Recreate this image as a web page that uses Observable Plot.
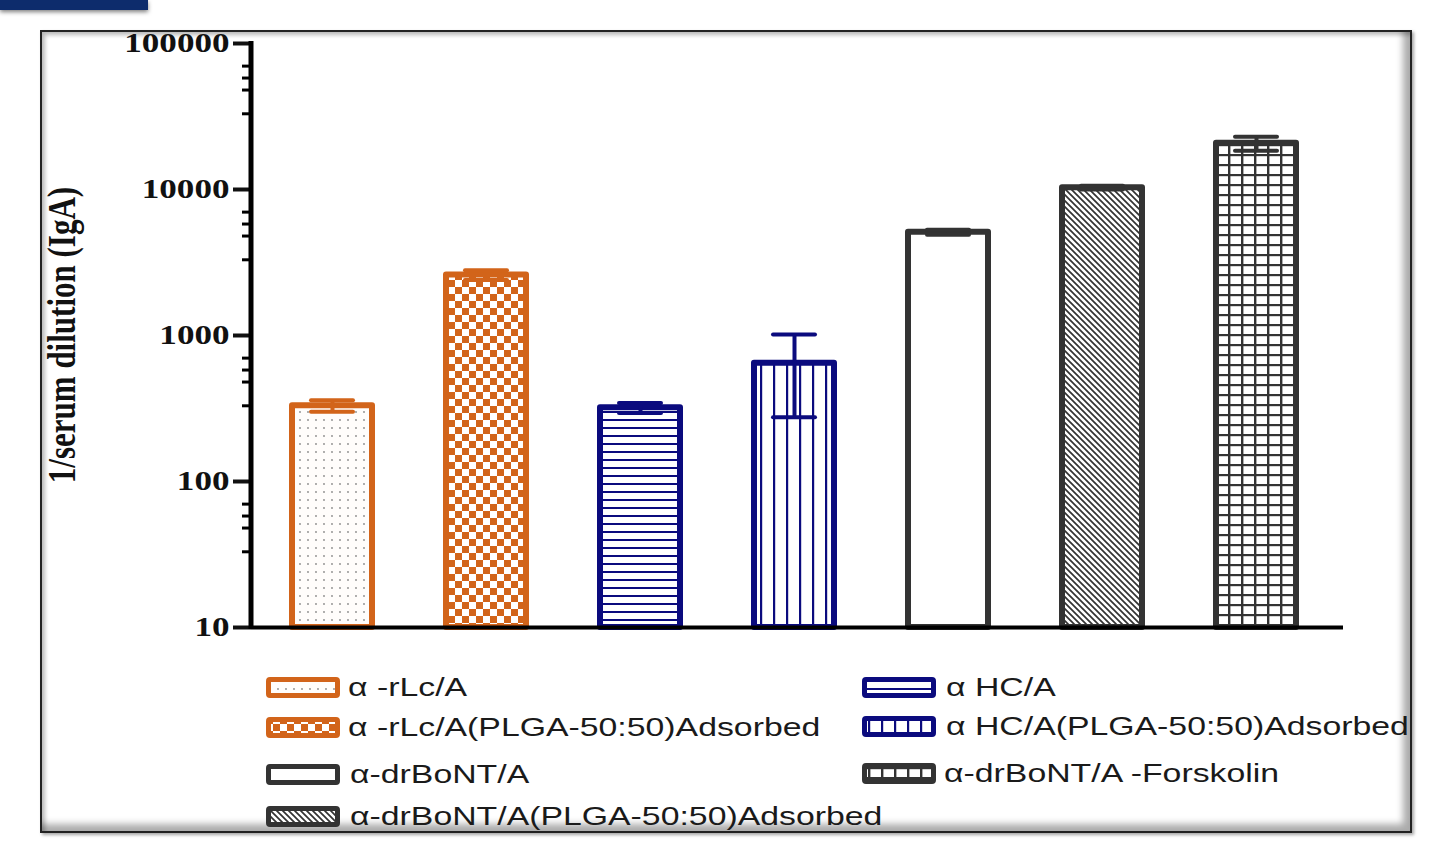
<!DOCTYPE html>
<html>
<head>
<meta charset="utf-8">
<script src="https://cdn.jsdelivr.net/npm/d3@7"></script>
<script src="https://cdn.jsdelivr.net/npm/@observablehq/plot@0.6"></script>
<style>
html, body { margin: 0; padding: 0; background: #fff; }
#stage { position: relative; width: 1447px; height: 866px; overflow: hidden; }
#strip { position: absolute; left: 0; top: 0; width: 148px; height: 10px; background: #0d2c6c; box-shadow: 0 2px 4px rgba(0,0,0,.5); }
#frame { position: absolute; left: 40px; top: 30px; width: 1368px; height: 799px; border: 2px solid #222;
  box-shadow: inset -7px -7px 7px rgba(0,0,0,.33), inset 3px 3px 4px rgba(0,0,0,.28), 2px 2px 3px rgba(0,0,0,.35); }
#chart { position: absolute; left: 0; top: 0; }
#ytitle { position: absolute; left: 62px; top: 335px; white-space: nowrap;
  font-family: "Liberation Serif", "Times New Roman", serif; font-weight: bold; font-size: 31px; color: #111;
  transform: translate(-50%, -50%) scaleX(1.3) rotate(-90deg); }
.lg-swatch { position: absolute; }
.lg-text { position: absolute; white-space: nowrap; font-family: "Liberation Sans", Arial, sans-serif; font-size: 26px; color: #1a1a1a;
  transform: translateY(-50%) scaleX(1.3); transform-origin: left center; line-height: 1; }
#defs { position: absolute; width: 0; height: 0; }
</style>
</head>
<body>
<div id="stage">
  <div id="strip"></div>
  <div id="frame"></div>
  <svg id="defs" width="0" height="0">
    <defs>
      <pattern id="p-dots" patternUnits="userSpaceOnUse" width="8" height="8">
        <rect width="8" height="8" fill="#fffdfb"/>
        <circle cx="4" cy="4" r="0.9" fill="#8a8a8a"/>
      </pattern>
      <pattern id="p-check" patternUnits="userSpaceOnUse" width="14" height="14">
        <rect width="14" height="14" fill="#fff"/>
        <rect x="0" y="0" width="7" height="7" fill="#d2641a"/>
        <rect x="7" y="7" width="7" height="7" fill="#d2641a"/>
      </pattern>
      <pattern id="p-hlines" patternUnits="userSpaceOnUse" width="8" height="8">
        <rect width="8" height="8" fill="#fff"/>
        <rect x="0" y="3" width="8" height="2" fill="#0b0b7e"/>
      </pattern>
      <pattern id="p-vlines" patternUnits="userSpaceOnUse" width="13" height="10">
        <rect width="13" height="10" fill="#fff"/>
        <rect x="6" y="0" width="2.2" height="10" fill="#0b0b7e"/>
      </pattern>
      <pattern id="p-hatch" patternUnits="userSpaceOnUse" width="6" height="6">
        <rect width="6" height="6" fill="#fff"/>
        <path d="M0,0 L6,6 M-1,5 L1,7 M5,-1 L7,1" stroke="#333" stroke-width="1.7"/>
      </pattern>
      <pattern id="p-grid" patternUnits="userSpaceOnUse" width="13" height="10">
        <rect width="13" height="10" fill="#fff"/>
        <rect x="6" y="0" width="2.4" height="10" fill="#333"/>
        <rect x="0" y="4" width="13" height="2.2" fill="#333"/>
      </pattern>
    </defs>
  </svg>
  <div id="chart"></div>
  <div id="ytitle">1/serum dilution (IgA)</div>
  <div id="legend"></div>
</div>
<script>
// ---- data ----
const categories = [
  "α -rLc/A",
  "α -rLc/A(PLGA-50:50)Adsorbed",
  "α HC/A",
  "α HC/A(PLGA-50:50)Adsorbed",
  "α-drBoNT/A",
  "α-drBoNT/A(PLGA-50:50)Adsorbed",
  "α-drBoNT/A -Forskolin"
];
const means  = [330, 2600, 320, 645, 5100, 10300, 20700];
const errors = [30, 200, 25, 370, 200, 300, 2300];
const yTicks = [10, 100, 1000, 10000, 100000];
const minorMultipliers = [3.3, 4.8, 5.8, 7];

// ---- styles ----
const strokeColors = ["#d2641a", "#d2641a", "#0b0b7e", "#0b0b7e", "#333333", "#333333", "#333333"];
const fillStyles = ["url(#p-dots)", "url(#p-check)", "url(#p-hlines)", "url(#p-vlines)", "#ffffff", "url(#p-hatch)", "url(#p-grid)"];

const data = categories.map((c, i) => ({cat: c, mean: means[i], err: errors[i], stroke: strokeColors[i], fill: fillStyles[i]}));
const minorTicks = [];
for (let k = 0; k < yTicks.length - 1; k++) for (const m of minorMultipliers) minorTicks.push(yTicks[k] * m);

const chart = Plot.plot({
  width: 1447,
  height: 660,
  marginLeft: 251,
  marginRight: 110,
  marginTop: 43,
  marginBottom: 33,
  style: {background: "transparent", overflow: "visible"},
  x: {domain: categories, paddingInner: 0.483, paddingOuter: 0.25, axis: null},
  y: {type: "log", domain: [10, 100000]},
  color: {type: "identity"},
  marks: [
    Plot.barY(data, {x: "cat", y1: 10, y2: "mean", fill: "fill", stroke: "stroke", strokeWidth: 6, strokeLinejoin: "round"}),
    Plot.ruleX(data, {x: "cat", y1: d => d.mean - d.err, y2: d => d.mean + d.err, stroke: "stroke", strokeWidth: 4}),
    Plot.tickY(data, {x: "cat", y: d => d.mean + d.err, stroke: "stroke", strokeWidth: 4, inset: 19, strokeLinecap: "round"}),
    Plot.tickY(data, {x: "cat", y: d => d.mean - d.err, stroke: "stroke", strokeWidth: 4, inset: 19, strokeLinecap: "round"}),
    Plot.axisY({ticks: minorTicks, tickSize: 9, strokeWidth: 3, tickFormat: () => "", label: null, color: "black"}),
    Plot.axisY({ticks: yTicks, tickSize: 18, tickPadding: 4, strokeWidth: 4, tickFormat: d => String(d), label: null,
      color: "#111", fontSize: 27, fontWeight: "bold", fontFamily: "Liberation Serif, Times New Roman, serif"}),
    Plot.ruleY([10], {stroke: "black", strokeWidth: 4, insetRight: -6}),
    (index, scales, values, dims) => {
      const line = d3.create("svg:line")
        .attr("x1", dims.marginLeft).attr("x2", dims.marginLeft)
        .attr("y1", scales.y(100000) - 2).attr("y2", scales.y(10) + 2)
        .attr("stroke", "black").attr("stroke-width", 5);
      return line.node();
    }
  ]
});
document.getElementById("chart").appendChild(chart);

// widen tick labels like the reference
chart.querySelectorAll('g[aria-label="y-axis tick label"] text').forEach(t => {
  const tr = t.getAttribute("transform");
  if (tr) t.setAttribute("transform", tr + " scale(1.3,1)");
  else {
    const x = +t.getAttribute("x") || 0, y = +t.getAttribute("y") || 0;
    t.removeAttribute("x"); t.removeAttribute("y");
    t.setAttribute("transform", `translate(${x},${y}) scale(1.3,1)`);
  }
});

// ---- legend ----
const legendLayout = [
  {i: 0, sx: 266, tx: 348, y: 687},
  {i: 1, sx: 266, tx: 348, y: 727},
  {i: 4, sx: 266, tx: 350, y: 774},
  {i: 5, sx: 266, tx: 350, y: 816},
  {i: 2, sx: 862, tx: 946, y: 687},
  {i: 3, sx: 862, tx: 946, y: 726},
  {i: 6, sx: 862, tx: 944, y: 773}
];
const legend = document.getElementById("legend");
legendLayout.forEach(({i, sx, tx, y}) => {
  const sw = d3.create("svg").attr("class", "lg-swatch").attr("width", 74).attr("height", 21)
    .style("left", sx + "px").style("top", (y - 10.5) + "px");
  sw.append("rect").attr("x", 2.5).attr("y", 2.5).attr("width", 69).attr("height", 16)
    .attr("rx", 1.5).attr("fill", fillStyles[i]).attr("stroke", strokeColors[i]).attr("stroke-width", 5);
  legend.appendChild(sw.node());
  const t = document.createElement("div");
  t.className = "lg-text";
  t.style.left = tx + "px";
  t.style.top = y + "px";
  t.textContent = categories[i];
  legend.appendChild(t);
});
</script>
</body>
</html>
